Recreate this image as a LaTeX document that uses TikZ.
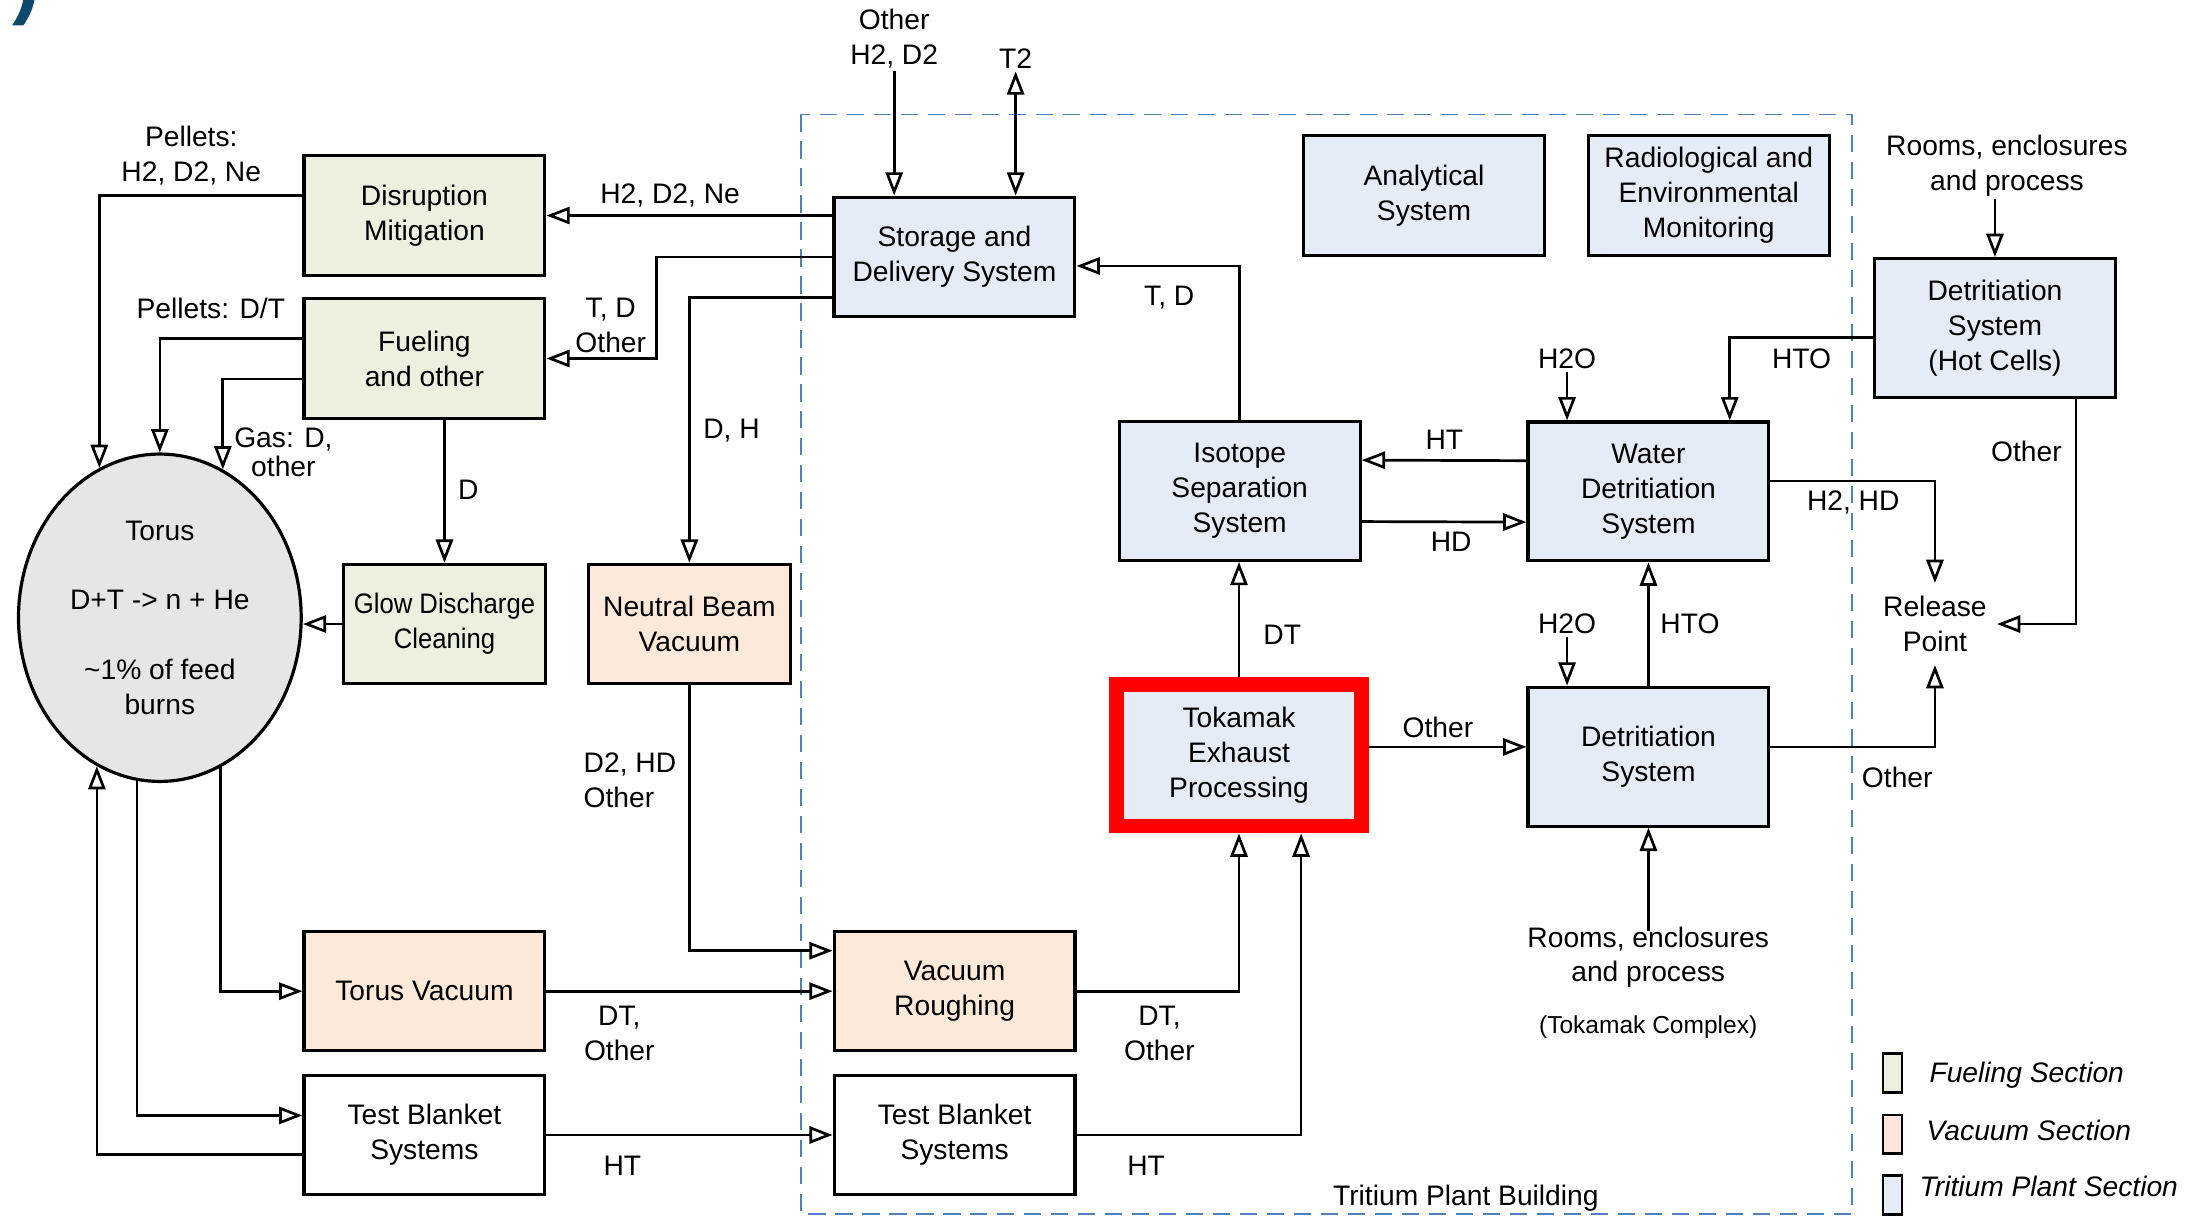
\documentclass[tikz,border=0pt]{standalone}
\usepackage{fontspec}
\setmainfont{Liberation Sans}
\newfontfamily\squeezefont{Liberation Sans}[FakeStretch=0.91]
\usepackage{tikz}
\usetikzlibrary{arrows.meta}
\usetikzlibrary{calc}
\usetikzlibrary{shapes.geometric}
\definecolor{fuelgreen}{HTML}{EBF1DE}
\definecolor{vacpeach}{HTML}{FDE9D9}
\definecolor{tritblue}{HTML}{E6ECF6}
\definecolor{torusgray}{HTML}{E6E6E6}
\definecolor{vaclegend}{HTML}{FDE5DE}
\definecolor{bldgblue}{HTML}{4F81BD}
\definecolor{figteal}{HTML}{0B4A6B}
\newcommand{\boxfont}{\fontsize{11.5}{14.2}\selectfont}
\tikzset{basic box/.style={draw,line width=1.3pt,inner sep=0pt,align=center}}
\tikzset{box/.style={basic box,minimum width=3.45cm,minimum height=1.71cm}}
\tikzset{tall box/.style={box,minimum height=1.99cm}}
\tikzset{small box/.style={box,minimum width=2.89cm}}
\tikzset{key box/.style={draw,line width=1pt,inner sep=0pt,minimum width=0.27cm,minimum height=0.555cm}}
\tikzset{flow/.style={draw,
                      line width=1.1pt,
                      line join=miter}}
\tikzset{>={Triangle[open,length=9.5pt,width=7pt]}}

\begin{document}
\begin{tikzpicture}
  [
    x=0.2mm,y=-0.2mm,
    font=\boxfont,
    tag/.style={inner sep=1pt,align=center},
    building/.style={draw=bldgblue,line width=0.7pt,dash pattern=on 7pt off 4pt},
    torus/.style={ellipse,draw,line width=1.3pt,fill=torusgray,inner sep=0pt,
                  minimum width=4.05cm,minimum height=4.69cm,align=center},
  ]
    \useasboundingbox (0,0) rectangle (1568,872);

    % building outline
    \draw [building] (574,82) rectangle (1326.5,869.5);
    \node [tag] (lBuilding) at (1050,858) {Tritium Plant Building};

    % cut figure tag
    \node [inner sep=0pt,anchor=base east,text=figteal,
           font=\bfseries\fontsize{34}{40}\selectfont] (figTag) at (29,6) {)};

    % torus
    \node [torus] (Torus) at (114.5,442.5)
      {Torus\\[14.2pt]D+T -> n + He\\[14.2pt]\textasciitilde1\% of feed\\burns};

    % fueling section
    \node [box,fill=fuelgreen] (DM) at (304,154.4) {Disruption\\Mitigation};
    \node [box,fill=fuelgreen] (FO) at (304,256.8) {Fueling\\and other};
    \node [small box,fill=fuelgreen,font=\squeezefont\boxfont] (GDC) at (318.4,447) {Glow Discharge\\Cleaning};

    % vacuum section
    \node [small box,fill=vacpeach] (NBV) at (493.8,447) {Neutral Beam\\Vacuum};
    \node [box,fill=vacpeach] (TV) at (304,710) {Torus Vacuum};
    \node [box,fill=vacpeach] (VR) at (683.8,710) {Vacuum\\Roughing};
    \node [box,fill=white] (TBL) at (304,813) {Test Blanket\\Systems};
    \node [box,fill=white] (TBR) at (683.8,813) {Test Blanket\\Systems};

    % tritium plant section
    \node [box,fill=tritblue] (SDS) at (683.7,184) {Storage and\\Delivery System};
    \node [box,fill=tritblue] (AS) at (1020,140) {Analytical\\System};
    \node [box,fill=tritblue] (REM) at (1224,140) {Radiological and\\Environmental\\Monitoring};
    \node [tall box,fill=tritblue] (ISS) at (888,351.6) {Isotope\\Separation\\System};
    \node [tall box,fill=tritblue] (WDS) at (1180.8,352) {Water\\Detritiation\\System};
    \node [tall box,fill=tritblue] (DS) at (1180.8,542) {Detritiation\\System};
    \node [tall box,fill=tritblue] (DSH) at (1429,235) {Detritiation\\System\\(Hot Cells)};
    \node [tall box,fill=tritblue,draw=red,line width=6pt,
           minimum width=3.51cm,minimum height=2.03cm] (TEP) at (887.5,541) {Tokamak\\Exhaust\\Processing};

    % release point
    \node [inner xsep=4pt,inner ysep=5.2pt,align=center] (RP) at (1386,447) {Release\\Point};

    % stream labels
    \node [tag] (lFeedIn) at (640.5,27.5) {Other\\H2, D2};
    \node [tag] (lT2) at (727.5,42) {T2};
    \node [tag] (lPellets) at (137,111.5) {Pellets:\\H2, D2, Ne};
    \node [tag] (lDMin) at (480,140) {H2, D2, Ne};
    \node [tag] (lPelletsDT) at (151,221) {Pellets: D/T};
    \node [tag] (lFOin) at (437.5,233) {T, D\\Other};
    \node [tag] (lGas) at (203,324) {Gas: D,\\[-2.5pt]other};
    \node [tag] (lNBVin) at (524,308.6) {D, H};
    \node [tag] (lGDCin) at (335.5,351) {D};
    \node [tag,anchor=west,align=left] (lNBVout) at (416,559) {D2, HD\\Other};
    \node [tag] (lTVout) at (443.6,740) {DT,\\Other};
    \node [tag] (lTBLout) at (445.8,835) {HT};
    \node [tag] (lVRout) at (830.5,740) {DT,\\Other};
    \node [tag] (lTBRout) at (821,835) {HT};
    \node [tag] (lTEPup) at (918.5,454.6) {DT};
    \node [tag] (lISSout) at (837.5,213) {T, D};
    \node [tag] (lWDStoISS) at (1034.6,315) {HT};
    \node [tag] (lISStoWDS) at (1039.5,388) {HD};
    \node [tag] (lTEPright) at (1030,520.7) {Other};
    \node [tag] (lH2Oa) at (1122.5,257) {H2O};
    \node [tag] (lH2Ob) at (1122.5,447) {H2O};
    \node [tag] (lHTOa) at (1290.5,257) {HTO};
    \node [tag] (lHTOb) at (1210.5,447) {HTO};
    \node [tag] (lRoomsT) at (1437.6,118.8) {Rooms, enclosures\\and process};
    \node [tag] (lDSHout) at (1451.5,323.6) {Other};
    \node [tag] (lWDSrel) at (1327.5,359.8) {H2, HD};
    \node [tag] (lDSrel) at (1359,557) {Other};
    \node [tag] (lRoomsB) at (1180.6,685.7) {Rooms, enclosures\\and process};
    \node [tag,font=\fontsize{10}{12}\selectfont] (lComplex) at (1180.6,735.5) {(Tokamak Complex)};

    % legend
    \node [key box,fill=fuelgreen] (keyFuel) at (1355.5,768.6) {};
    \node [key box,fill=vaclegend] (keyVac) at (1355.5,812.5) {};
    \node [key box,fill=tritblue] (keyTrit) at (1355.5,856) {};
    \node [tag,anchor=west,font=\itshape\boxfont] (keyFuelText) at (1380,770) {Fueling Section};
    \node [tag,anchor=west,font=\itshape\boxfont] (keyVacText) at (1378,809.5) {Vacuum Section};
    \node [tag,anchor=west,font=\itshape\boxfont] (keyTritText) at (1373,850) {Tritium Plant Section};

    % edges
    \path [flow,->] (SDS.west |- DM.east) -- (DM.east);
    \path [flow,->] ($(DM.west)+(0,-14.4)$) -| (Torus.112.65);
    \path [flow,->] (SDS.west) -- ++(-126,0) |- (FO.east);
    \path [flow,->] ($(SDS.west)+(0,29.3)$) -| (NBV.north);
    \path [flow,->] ($(FO.west)+(0,-14.5)$) -| (Torus.north);
    \path [flow,->] ($(FO.west)+(0,14.7)$) -| (Torus.67.9);
    \path [flow,->] (FO.south -| GDC.north) -- (GDC.north);
    \path [flow,->] (GDC.west) -- (Torus.east |- GDC.west);
    \path [flow,->] (Torus.292.1) |- (TV.west);
    \path [flow,->] (Torus.262.45) |- ($(TBL.west)+(0,-14)$);
    \path [flow,->] ($(TBL.west)+(0,14)$) -| (Torus.247.35);
    \path [flow,->] (TV.east) -- (VR.west);
    \path [flow,->] (NBV.south) |- ($(VR.west)+(0,-29)$);
    \path [flow,->] (TBL.east) -- (TBR.west);
    \path [flow,->] (VR.east) -| (TEP.south);
    \path [flow,->] (TBR.east) -| ($(TEP.south)+(44.5,0)$);
    \path [flow,->] (TEP.north) -- (TEP.north |- ISS.south);
    \path [flow,->] (ISS.north) |- ($(SDS.east)+(0,6.5)$);
    \path [flow,->] ($(WDS.west)+(0,-22)$) -- ($(ISS.east)+(0,-22)$);
    \path [flow,->] ($(ISS.east)+(0,22)$) -- ($(WDS.west)+(0,22)$);
    \path [flow,->] ($(TEP.east)+(0,-6)$) -- ($(DS.west)+(0,-7)$);
    \path [flow,->] (DS.north) -- (WDS.south);
    \path [flow,->] (lH2Ob.south) -- (lH2Ob.south |- DS.north);
    \path [flow,->] (lH2Oa.south) -- (lH2Oa.south |- WDS.north);
    \path [flow,->] ($(DSH.west)+(0,7)$) -| ($(WDS.north)+(58.2,0)$);
    \path [flow,->] (DSH.north |- lRoomsT.south) -- (DSH.north);
    \path [flow,->] ($(DSH.south)+(58,0)$) |- (RP.east);
    \path [flow,->] ($(WDS.east)+(0,-7.5)$) -| (RP.north);
    \path [flow,->] ($(DS.east)+(0,-7)$) -| (RP.south);
    \path [flow,->,shorten <=-3pt] (DS.south |- lRoomsB.north) -- (DS.south);
    \path [flow,->] (lFeedIn.south) -- (lFeedIn.south |- SDS.north);
    \path [flow,<->] (lT2.south) -- (lT2.south |- SDS.north);

  \end{tikzpicture}
\end{document}
